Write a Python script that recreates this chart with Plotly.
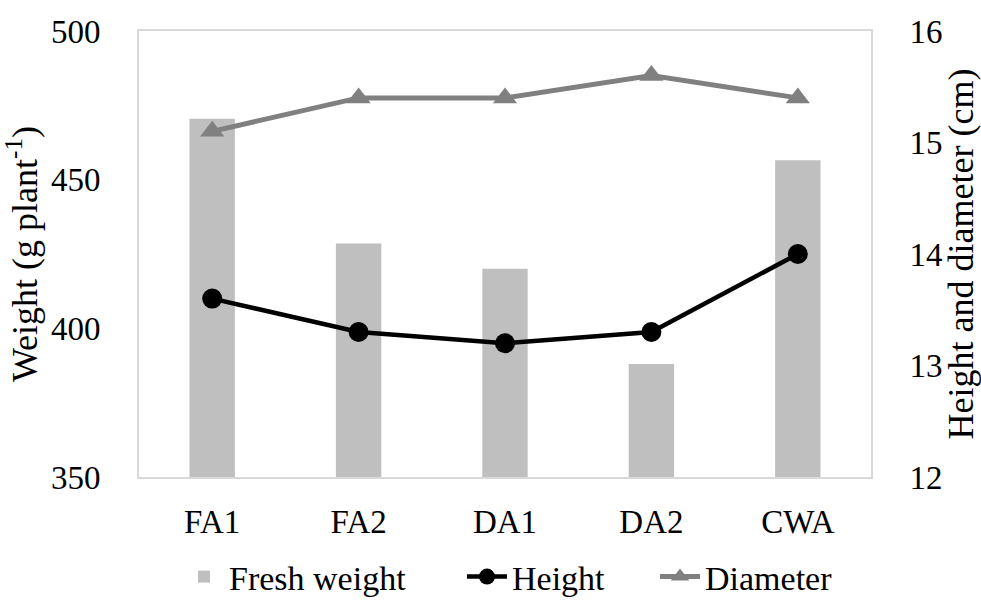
import plotly.graph_objects as go

categories = ["FA1", "FA2", "DA1", "DA2", "CWA"]
fresh_weight = [470.5, 428.5, 420.0, 388.0, 456.5]
height_cm = [13.6, 13.3, 13.2, 13.3, 14.0]
diameter_cm = [15.1, 15.4, 15.4, 15.6, 15.4]

FONT = "Liberation Serif"
W, H = 981, 601

fig = go.Figure()
fig.add_trace(go.Bar(
    x=categories, y=fresh_weight, name="Fresh weight",
    marker=dict(color="#bfbfbf", line=dict(width=0)),
    yaxis="y", legend="legend",
))
fig.add_trace(go.Scatter(
    x=categories, y=height_cm, name="Height", mode="lines+markers",
    line=dict(color="black", width=4.5),
    marker=dict(symbol="circle", size=20, color="black"),
    yaxis="y2", legend="legend2",
))
fig.add_trace(go.Scatter(
    x=categories, y=diameter_cm, name="Diameter", mode="lines+markers",
    line=dict(color="#808080", width=5),
    marker=dict(symbol="triangle-up", size=21, color="#808080"),
    yaxis="y2", legend="legend3",
))


def legend_box(left_px):
    # one legend per series so each entry sits at its own horizontal spot
    return dict(
        orientation="h", xref="container", x=left_px / W, xanchor="left",
        yref="container", y=(H - 577) / H, yanchor="middle",
        font=dict(family=FONT, size=34), itemwidth=40,
        bgcolor="rgba(0,0,0,0)",
    )


fig.update_layout(
    width=W, height=H,
    margin=dict(l=139, r=110, t=31, b=124),
    paper_bgcolor="white", plot_bgcolor="white",
    font=dict(family=FONT, size=33, color="black"),
    bargap=0.69,
    showlegend=True,
    legend=legend_box(179),
    legend2=legend_box(462),
    legend3=legend_box(655),
    xaxis=dict(
        showline=True, mirror=True, linecolor="#d9d9d9", linewidth=2,
        ticks="", tickfont=dict(size=33), showgrid=False,
        ticklabelstandoff=14, automargin=False,
    ),
    yaxis=dict(
        range=[350, 500], tickvals=[350, 400, 450, 500],
        showline=True, linecolor="#d9d9d9", linewidth=2,
        ticks="", showgrid=False, zeroline=False,
        tickfont=dict(size=33), ticklabelstandoff=30, automargin=False,
        title=dict(text="Weight (g plant<sup>-1</sup>)", font=dict(size=36), standoff=12),
    ),
    yaxis2=dict(
        range=[12, 16], tickvals=[12, 13, 14, 15, 16],
        overlaying="y", side="right",
        showline=True, linecolor="#d9d9d9", linewidth=2,
        ticks="", showgrid=False, zeroline=False,
        tickfont=dict(size=33), ticklabelstandoff=30, automargin=False,
        title=dict(text="Height and diameter (cm)", font=dict(size=36), standoff=14),
    ),
)

fig.write_html("out.html")
